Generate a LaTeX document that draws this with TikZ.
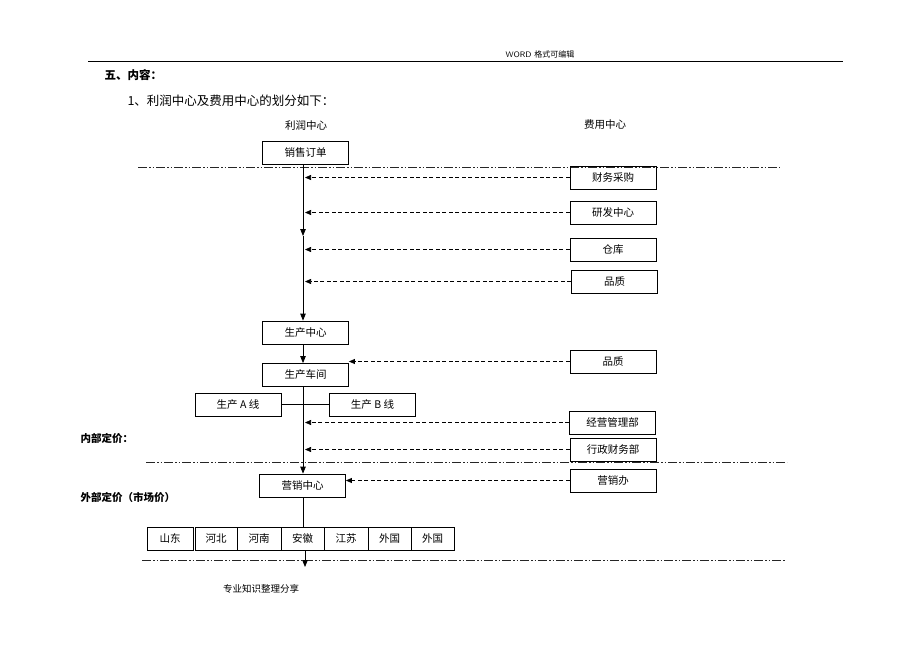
\documentclass[tikz,border=0pt]{standalone}
\usepackage{fontspec}
\setmainfont{Liberation Serif}
\newfontfamily\cjk{Noto Sans CJK SC}
\usetikzlibrary{arrows.meta}
\begin{document}
\begin{tikzpicture}[x=1pt,y=-1pt,
 box/.style={draw,line width=0.8pt,minimum width=86pt,minimum height=23pt,inner sep=0pt,font=\cjk\fontsize{10.5}{12}\selectfont},
 rbox/.style={box,minimum width=43pt},
 sep/.style={line width=0.7pt,black!85,dash pattern=on 9pt off 2pt on 1.5pt off 2pt on 1.5pt off 2pt},
 dar/.style={line width=0.7pt,dash pattern=on 4pt off 2.5pt,-{Triangle[length=6pt,width=5pt]}},
 sar/.style={line width=0.8pt,-{Triangle[length=7pt,width=5.5pt]}},
 lab/.style={font=\cjk\fontsize{10.5}{12}\selectfont},
 blab/.style={anchor=west,font=\cjk\bfseries\fontsize{10.5}{12}\selectfont},
 ]
\useasboundingbox[fill=white] (0,0) rectangle (920,651);
% header
\node[anchor=base,font=\sffamily\fontsize{8}{9}\selectfont] (hd) at (540,57) {WORD {\cjk 格式可编辑}};
\draw[line width=0.8pt] (88,61.5) -- (843,61.5);
\node[anchor=west,font=\cjk\bfseries\fontsize{11.5}{13}\selectfont] (t1) at (101,75) {五、内容：};
\node[anchor=west,font=\cjk\fontsize{12.5}{14}\selectfont] (t2) at (124,101) {1、利润中心及费用中心的划分如下：};
\node[lab] (lr) at (306,125) {利润中心};
\node[lab] (fy) at (605,125) {费用中心};
\node[blab] (nb) at (77,438) {内部定价：};
\node[blab] (wb) at (77,497) {外部定价（市场价）};
\node[lab,font=\cjk\fontsize{9.5}{11}\selectfont] (ft) at (261,589) {专业知识整理分享};
% separators
\draw[sep] (138,167) -- (780,167);
\draw[sep] (146,462) -- (787,462);
\draw[sep] (142,560) -- (785,560);
% boxes
\node[box] (xs) at (305.5,153) {销售订单};
\node[box] (cw) at (613,177.5) {财务采购};
\node[box] (yf) at (613,212.5) {研发中心};
\node[box] (ck) at (613,249.5) {仓库};
\node[box] (pz1) at (614.5,281.5) {品质};
\node[box] (sczx) at (305.5,332.5) {生产中心};
\node[box] (sccj) at (305.5,375) {生产车间};
\node[box] (pz2) at (613,361.5) {品质};
\node[box] (lA) at (238,404.5) {生产 A 线};
\node[box] (lB) at (372.5,404.5) {生产 B 线};
\node[box] (jy) at (612.5,422.5) {经营管理部};
\node[box] (xz) at (613,449.5) {行政财务部};
\node[box] (yx) at (302.5,485.5) {营销中心};
\node[box] (yxb) at (613,480.5) {营销办};
% region row
\node[rbox,minimum width=46pt] (sd) at (170,538.5) {山东};
\node[rbox,minimum width=42pt] (hb) at (216,538.5) {河北};
\node[rbox,minimum width=44pt] (hn) at (259,538.5) {河南};
\node[rbox] (ah) at (302.5,538.5) {安徽};
\node[rbox,minimum width=44pt] (js) at (346,538.5) {江苏};
\node[rbox] (wg1) at (389.5,538.5) {外国};
\node[rbox] (wg2) at (432.5,538.5) {外国};
% main line coordinates
\coordinate (mx) at (303,0);
\coordinate (m2) at (305,0);
\coordinate (m1) at (303,236);
\coordinate (m3) at (305,0);
\coordinate (endp) at (305,567);
% connectors
\draw[sar] (xs.south -| mx) -- (m1);
\draw[sar] (m1) -- (sczx.north -| mx);
\draw[dar] (cw.west) -- (cw.west -| m2);
\draw[dar] (yf.west) -- (yf.west -| m2);
\draw[dar] (ck.west) -- (ck.west -| m2);
\draw[dar] (pz1.west) -- (pz1.west -| m2);
\draw[sar] (sczx.south -| mx) -- (sccj.north -| mx);
\draw[dar] (pz2.west) -- (pz2.west -| sccj.east);
\draw[line width=0.8pt] (lA.east) -- (lB.west);
\draw[sar] (sccj.south -| mx) -- (yx.north -| mx);
\draw[dar] (jy.west) -- (jy.west -| m2);
\draw[dar] (xz.west) -- (xz.west -| m2);
\draw[dar] (yxb.west) -- (yxb.west -| yx.east);
\draw[line width=0.8pt] (yx.south -| mx) -- (ah.north -| mx);
\draw[sar] (ah.south -| m3) -- (endp);
\end{tikzpicture}
\end{document}
